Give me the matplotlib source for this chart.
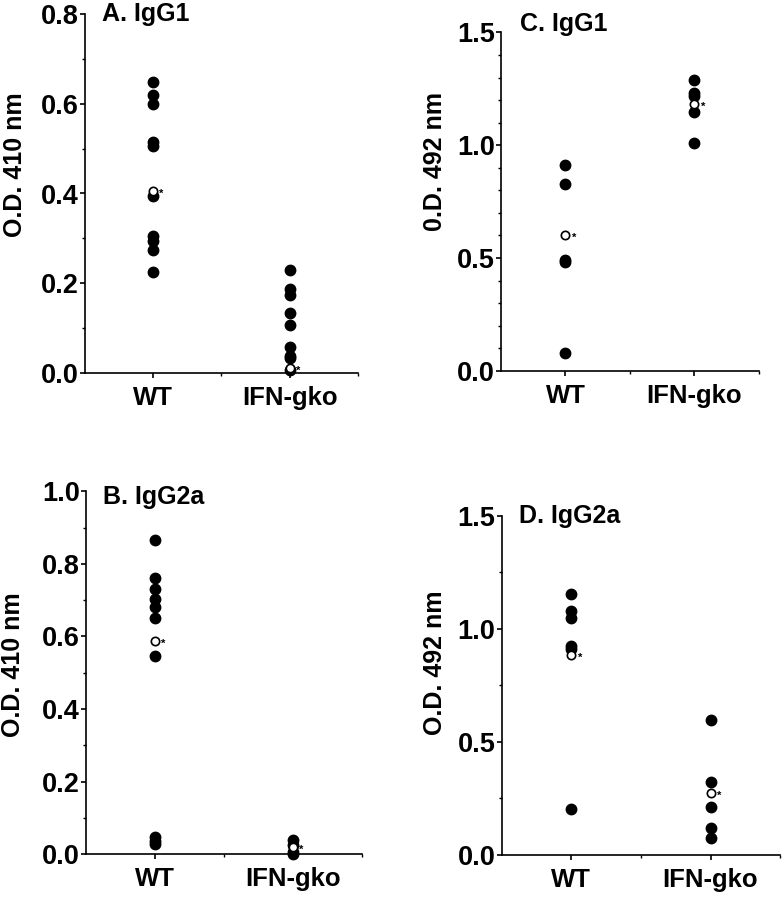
import matplotlib
matplotlib.use("Agg")
import matplotlib.pyplot as plt
from matplotlib.ticker import MultipleLocator, FixedLocator, FormatStrFormatter

plt.rcParams['font.family'] = ['Liberation Sans', 'DejaVu Sans']
plt.rcParams['font.weight'] = 'bold'

groups = ["WT", "IFN-gko"]

# Panel A: IgG1, O.D. 410 nm
a_wt = [0.65, 0.62, 0.60, 0.515, 0.505, 0.395, 0.305, 0.295, 0.273, 0.224]
a_ko = [0.230, 0.186, 0.174, 0.133, 0.107, 0.058, 0.037, 0.032, 0.005]
a_mean = [0.405, 0.010]

# Panel B: IgG2a, O.D. 410 nm
b_wt = [0.865, 0.761, 0.732, 0.703, 0.682, 0.651, 0.546, 0.046, 0.035, 0.028]
b_ko = [0.039, 0.026, 0.007, 0.0]
b_mean = [0.587, 0.019]

# Panel C: IgG1, O.D. 492 nm
c_wt = [0.911, 0.828, 0.492, 0.481, 0.077]
c_ko = [1.287, 1.230, 1.218, 1.147, 1.010]
c_mean = [0.603, 1.184]

# Panel D: IgG2a, O.D. 492 nm
d_wt = [1.153, 1.080, 1.047, 0.925, 0.910, 0.202]
d_ko = [0.597, 0.322, 0.214, 0.121, 0.077]
d_mean = [0.885, 0.273]

panels = [
    dict(rect=[0.108, 0.586, 0.349, 0.398], wt=a_wt, ko=a_ko, mean=a_mean,
         title="A. IgG1", ylabel="O.D. 410 nm", ymax=0.8, major=0.2, minor=0.1,
         ty=1.0, tx=0.062, lx=-0.255, ly=0.581),
    dict(rect=[0.639, 0.588, 0.329, 0.376], wt=c_wt, ko=c_ko, mean=c_mean,
         title="C. IgG1", ylabel="0.D. 492 nm", ymax=1.5, major=0.5, minor=0.1,
         ty=1.024, tx=0.074, lx=-0.256, ly=0.618),
    dict(rect=[0.110, 0.051, 0.352, 0.403], wt=b_wt, ko=b_ko, mean=b_mean,
         title="B. IgG2a", ylabel="O.D. 410 nm", ymax=1.0, major=0.2, minor=0.1,
         ty=0.985, tx=0.062, lx=-0.264, ly=0.523),
    dict(rect=[0.640, 0.050, 0.355, 0.377], wt=d_wt, ko=d_ko, mean=d_mean,
         title="D. IgG2a", ylabel="O.D. 492 nm", ymax=1.5, major=0.5, minor=0.25,
         ty=1.0, tx=0.062, lx=-0.241, ly=0.566),
]

fig = plt.figure(figsize=(7.84, 9.0), dpi=100)

for p in panels:
    ax = fig.add_axes(p["rect"])
    ax.plot([1] * len(p["wt"]), p["wt"], 'o', color='black', markersize=7.5,
            linestyle='none', clip_on=False, zorder=3)
    ax.plot([2] * len(p["ko"]), p["ko"], 'o', color='black', markersize=7.5,
            linestyle='none', clip_on=False, zorder=3)
    ax.plot([1, 2], p["mean"], 'o', markerfacecolor='white', markeredgecolor='black',
            markeredgewidth=1.2, markersize=6, linestyle='none', clip_on=False, zorder=4)
    for xi, m in zip([1, 2], p["mean"]):
        ax.annotate("*", (xi, m), xytext=(4.5, -2), textcoords='offset points',
                    fontsize=8, ha='left', va='center', zorder=5)
    ax.set_xlim(0.5, 2.5)
    ax.set_ylim(0, p["ymax"])
    ax.set_xticks([1, 2])
    ax.set_xticklabels(groups, fontsize=18.5, fontweight='bold')
    ax.xaxis.set_minor_locator(FixedLocator([1.5, 2.5]))
    ax.yaxis.set_major_locator(MultipleLocator(p["major"]))
    ax.yaxis.set_minor_locator(MultipleLocator(p["minor"]))
    ax.yaxis.set_major_formatter(FormatStrFormatter('%.1f'))
    for lab in ax.get_yticklabels():
        lab.set_fontsize(19.5)
        lab.set_fontweight('bold')
    ax.tick_params(axis='both', which='major', length=3.5, width=1.2, direction='out', pad=1)
    ax.tick_params(axis='both', which='minor', length=2.5, width=1.0, direction='out')
    ax.tick_params(axis='x', which='major', pad=6)
    ax.set_ylabel(p["ylabel"], fontsize=18, fontweight='bold', va='center')
    ax.yaxis.set_label_coords(p["lx"], p["ly"])
    ax.spines['top'].set_visible(False)
    ax.spines['right'].set_visible(False)
    ax.spines['left'].set_linewidth(1.2)
    ax.spines['bottom'].set_linewidth(1.2)
    ax.text(p["tx"], p["ty"], p["title"], transform=ax.transAxes, fontsize=18,
            fontweight='bold', ha='left', va='center')

fig.savefig("out.png", dpi=100, facecolor='white')
